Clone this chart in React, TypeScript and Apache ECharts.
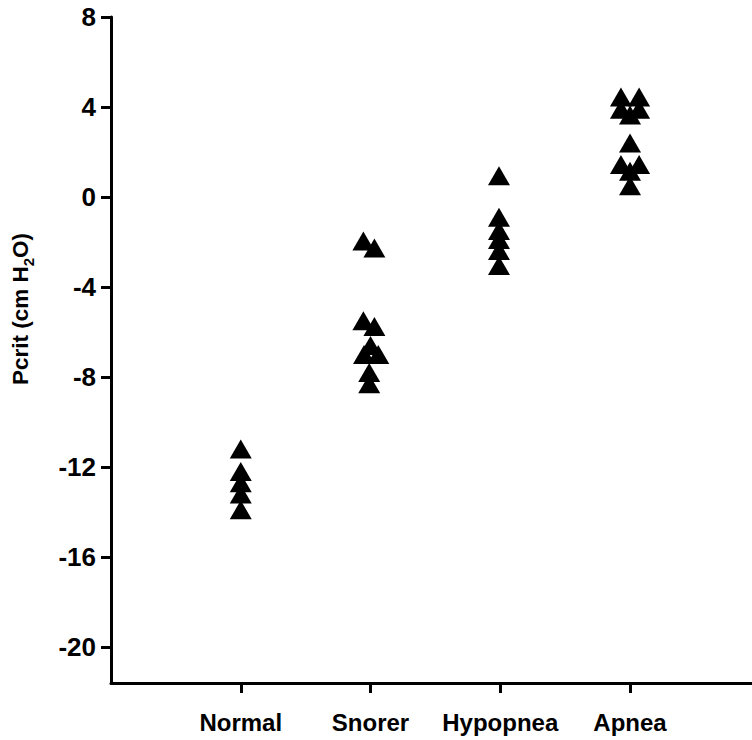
import React, { useEffect, useRef } from "react";
import * as echarts from "echarts";

const categories = ["Normal", "Snorer", "Hypopnea", "Apnea"];
const categoryPositions = [1, 2, 3, 4];
const yTicks = [-20, -16, -12, -8, -4, 0, 4, 8];

// [horizontal position (category index with jitter), Pcrit value]
const normal: [number, number][] = [
  [1, -11.2], [1, -12.2], [1, -12.7], [1, -13.2], [1, -13.9],
];
const snorer: [number, number][] = [
  [1.945, -1.96], [2.03, -2.27], [1.945, -5.5], [2.03, -5.75],
  [2.0, -6.6], [1.95, -7.0], [2.06, -7.0], [1.99, -7.8], [1.99, -8.3],
];
const hypopnea: [number, number][] = [
  [2.99, 0.95], [2.99, -0.9], [2.99, -1.49], [2.99, -1.89], [2.99, -2.38], [2.99, -3.04],
];
const apnea: [number, number][] = [
  [3.93, 4.45], [4.07, 4.45], [3.93, 3.9], [4.07, 3.9], [4.0, 3.65],
  [4.0, 2.4], [3.93, 1.45], [4.07, 1.45], [4.0, 1.15], [4.0, 0.5],
];

const FONT = "Liberation Sans, Arial, Helvetica, sans-serif";

export default function App() {
  const ref = useRef<HTMLDivElement>(null);
  useEffect(() => {
    if (!ref.current) return;
    const chart = echarts.init(ref.current, null, { renderer: "svg" });
    const groups = [normal, snorer, hypopnea, apnea];
    chart.setOption({
      animation: false,
      backgroundColor: "#ffffff",
      grid: { left: 111, right: 0, top: 17, bottom: 57, containLabel: false },
      xAxis: {
        type: "value",
        min: 0,
        max: 4.94,
        splitLine: { show: false },
        axisLine: { show: true, onZero: false, lineStyle: { color: "#000", width: 3 } },
        axisTick: {
          show: true,
          customValues: categoryPositions,
          length: 10,
          lineStyle: { color: "#000", width: 3 },
        },
        axisLabel: {
          customValues: categoryPositions,
          formatter: (v: number) => categories[Math.round(v) - 1] ?? "",
          color: "#000",
          fontFamily: FONT,
          fontWeight: "bold",
          fontSize: 24,
          margin: 27,
        },
      },
      yAxis: {
        type: "value",
        min: -21.6,
        max: 8,
        splitLine: { show: false },
        axisLine: { show: true, onZero: false, lineStyle: { color: "#000", width: 3 } },
        axisTick: {
          show: true,
          customValues: yTicks,
          length: 10,
          lineStyle: { color: "#000", width: 3 },
        },
        axisLabel: {
          customValues: yTicks,
          color: "#000",
          fontFamily: FONT,
          fontWeight: "bold",
          fontSize: 26,
          margin: 15,
        },
      },
      graphic: [
        {
          type: "text",
          x: 20,
          y: 309,
          rotation: Math.PI / 2,
          style: {
            text: "Pcrit (cm H{sub|2}O)",
            fill: "#000",
            font: `bold 22.5px ${FONT}`,
            align: "center",
            verticalAlign: "middle",
            lineHeight: 23,
            rich: {
              sub: {
                fontSize: 15,
                fontWeight: "bold",
                fontFamily: FONT,
                fill: "#000",
                verticalAlign: "bottom",
                lineHeight: 31,
              },
            },
          },
        },
      ],
      series: groups.map((g, i) => ({
        type: "scatter",
        name: categories[i],
        data: g,
        symbol: "triangle",
        symbolSize: [22, 19],
        itemStyle: { color: "#000", opacity: 1 },
        silent: true,
      })),
    });
    return () => chart.dispose();
  }, []);
  return (
    <div
      ref={ref}
      style={{ position: "fixed", left: 0, top: 0, width: 752, height: 740, background: "#fff" }}
    />
  );
}
